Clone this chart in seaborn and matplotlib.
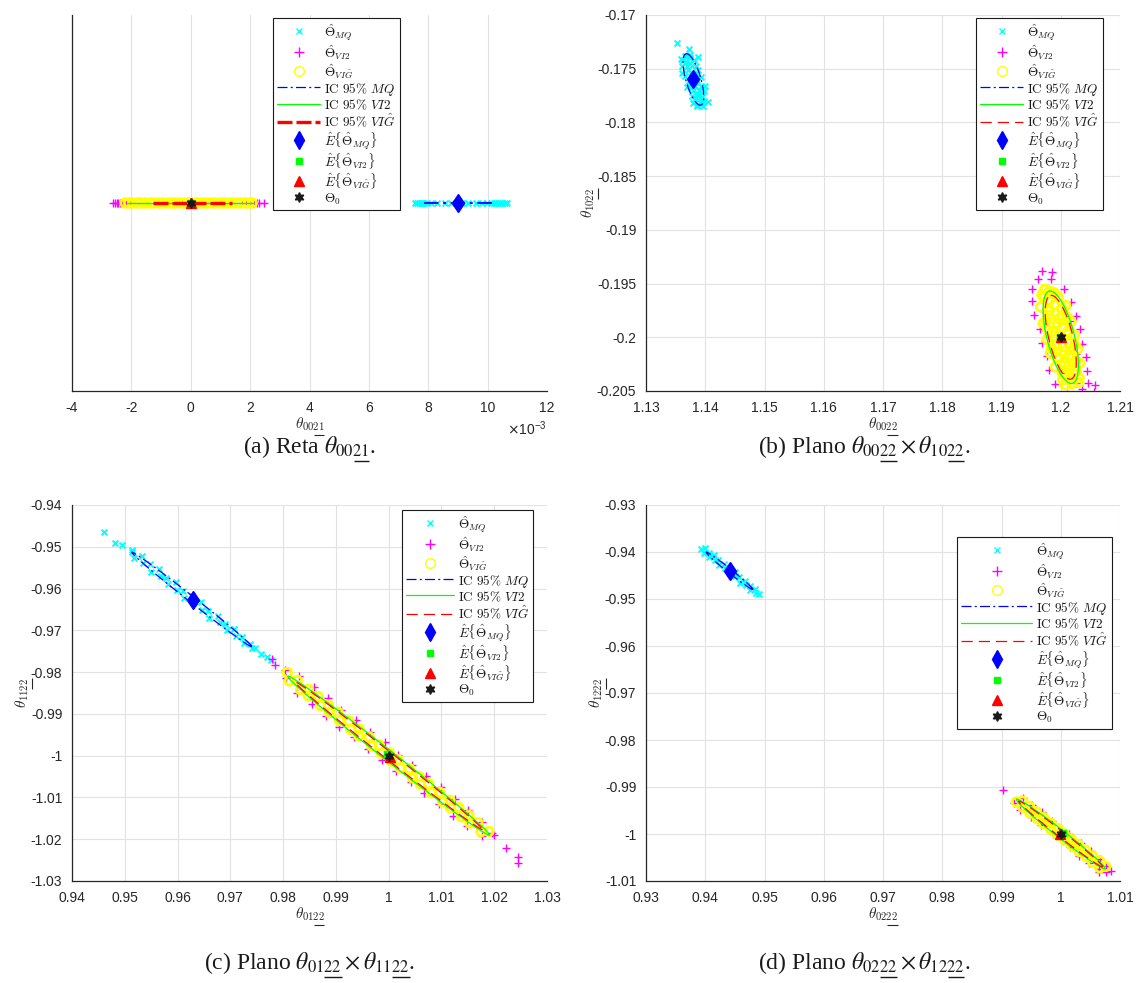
import numpy as np
import matplotlib
matplotlib.use("Agg")
import matplotlib.pyplot as plt
from matplotlib.lines import Line2D
import seaborn as sns

# ---------------------------------------------------------------- data
# (a) line theta_0021 (values in units of 1e-3)
a_mq = [7.55, 7.61, 7.68, 7.74, 7.80, 7.87, 7.95, 8.10, 8.30, 8.55, 8.75, 8.95, 9.15,
        9.35, 9.60, 9.80, 9.98, 10.12, 10.22, 10.29, 10.36, 10.43, 10.50, 10.57, 10.64]
a_vi2 = [-2.62, -2.55, -2.50, -2.44, -2.38, -2.31, -2.25, -2.17, -2.06, -1.93, -1.80,
         -1.50, -1.10, -0.70, -0.30, 0.20, 0.60, 1.00, 1.40, 1.72, 1.85, 1.97, 2.06,
         2.14, 2.22, 2.31, 2.47, 3.10]
a_vig = [-2.21, -2.09, -1.95, -1.79, -1.68, -1.52, -1.36, -1.24, -1.07, -0.95, -0.78,
         -0.63, -0.52, -0.34, -0.20, -0.07, 0.09, 0.22, 0.38, 0.51, 0.67, 0.80, 0.96,
         1.09, 1.25, 1.38, 1.54, 1.67, 1.83, 1.95, 2.07]
a_ci_mq = [7.85, 10.20]
a_ci_vi2 = [-2.13, 2.13]
a_ci_vig = [-1.26, 1.40]
a_mean_mq = 9.0
a_mean_vi2 = 0.0
a_mean_vig = 0.0
a_theta0 = 0.0
a_xticks = [-4, -2, 0, 2, 4, 6, 8, 10, 12]

# (b) plane theta_0022 x theta_1022
b_mq_x = [1.1353, 1.1373, 1.1387, 1.1405, 1.1396, 1.1386,
          1.13688, 1.13749, 1.13627, 1.13810, 1.13615, 1.13774, 1.13701, 1.13885,
          1.13653, 1.13806, 1.13739, 1.13934, 1.13837, 1.13691, 1.13923, 1.13813,
          1.13973, 1.13777, 1.13937, 1.13876, 1.13986, 1.13864, 1.13943, 1.13657,
          1.13610, 1.13997, 1.13731, 1.13857, 1.13769, 1.13734,
          1.13737, 1.13695, 1.13847, 1.13769, 1.13836, 1.13769, 1.13867, 1.13831,
          1.13764, 1.13893, 1.13881, 1.13827, 1.13931, 1.13676, 1.13596, 1.13797]
b_mq_y = [-0.1726, -0.1732, -0.1739, -0.1781, -0.1785, -0.1784,
          -0.17385, -0.17376, -0.17420, -0.17418, -0.17473, -0.17475, -0.17512,
          -0.17510, -0.17570, -0.17565, -0.17609, -0.17580, -0.17620, -0.17672,
          -0.17659, -0.17701, -0.17704, -0.17757, -0.17760, -0.17795, -0.17804,
          -0.17848, -0.17823, -0.17377, -0.17538, -0.17661, -0.17443, -0.17733,
          -0.17566, -0.17649,
          -0.17404, -0.17474, -0.17477, -0.17540, -0.17543, -0.17592, -0.17603,
          -0.17660, -0.17683, -0.17702, -0.17755, -0.17776, -0.17800, -0.17438,
          -0.17411, -0.17819]
b_vi2_x = [1.19615, 1.19832, 1.19515, 1.20063, 1.19517, 1.20177, 1.19551, 1.20258,
           1.19642, 1.20326, 1.19676, 1.20360, 1.19768, 1.20429, 1.19802, 1.20451,
           1.19905, 1.20453, 1.20113, 1.20357, 1.19875, 1.19702, 1.20150, 1.19812,
           1.20260, 1.20005, 1.20259, 1.19679, 1.19849, 1.20560, 1.20577]
b_vi2_y = [-0.19453, -0.19457, -0.19551, -0.19548, -0.19663, -0.19672, -0.19794,
           -0.19799, -0.19920, -0.19927, -0.20051, -0.20058, -0.20177, -0.20186,
           -0.20308, -0.20318, -0.20433, -0.20430, -0.20526, -0.20483, -0.19609,
           -0.19758, -0.19853, -0.20061, -0.20156, -0.20335, -0.20424, -0.19381,
           -0.19388, -0.20510, -0.20441]
b_vig_x = [1.19810, 1.19714, 1.19954, 1.19660, 1.19890, 1.20084, 1.19790, 1.20030,
           1.19704, 1.19943, 1.20173, 1.19857, 1.20119, 1.19770, 1.20000, 1.20230,
           1.19914, 1.20144, 1.19827, 1.20057, 1.20287, 1.19971, 1.20201, 1.19907,
           1.20137, 1.20321, 1.20028, 1.20258, 1.20171, 1.20033, 1.20309, 1.20190,
           1.19732,
           1.19889, 1.19802, 1.20013, 1.19806, 1.19970, 1.19752, 1.20108, 1.20031,
           1.19778, 1.19876, 1.20106, 1.20038, 1.19843, 1.20234, 1.20145, 1.19938,
           1.20059, 1.20243, 1.20133, 1.20221, 1.20083, 1.20305, 1.20075, 1.19682]
b_vig_y = [-0.19570, -0.19623, -0.19625, -0.19717, -0.19697, -0.19703, -0.19795,
           -0.19797, -0.19870, -0.19871, -0.19851, -0.19946, -0.19945, -0.20020,
           -0.20000, -0.19980, -0.20075, -0.20055, -0.20149, -0.20129, -0.20109,
           -0.20204, -0.20184, -0.20276, -0.20256, -0.20240, -0.20333, -0.20313,
           -0.20387, -0.20399, -0.20375, -0.20430, -0.19555,
           -0.19586, -0.19660, -0.19731, -0.19749, -0.19824, -0.19843, -0.19812,
           -0.19908, -0.19930, -0.19989, -0.19969, -0.20086, -0.20103, -0.20069,
           -0.20166, -0.20184, -0.20241, -0.20225, -0.20301, -0.20338, -0.20350,
           -0.20420, -0.20440, -0.19604]
# confidence ellipses: centre, then the two semi-axis vectors
b_ci_mq = [(1.1380, -0.1760), (-0.00125, 0.00239), (0.00122, 0.00018)]
b_ci_vi2 = [(1.2000, -0.2000), (-0.0019, 0.0043), (0.0023, 0.0002)]
b_ci_vig = [(1.2000, -0.2000), (-0.0017, 0.0039), (0.0020, 0.0002)]
b_mean_mq = (1.1380, -0.1760)
b_mean_vi2 = (1.1999, -0.2000)
b_mean_vig = (1.2001, -0.2000)
b_theta0 = (1.2000, -0.2000)
b_xticks = [1.13, 1.14, 1.15, 1.16, 1.17, 1.18, 1.19, 1.20, 1.21]
b_yticks = [-0.205, -0.2, -0.195, -0.19, -0.185, -0.18, -0.175, -0.17]

# (c) plane theta_0122 x theta_1122
c_mq_x = [0.9461, 0.9482, 0.9494, 0.9513,
          0.95133, 0.95178, 0.95327, 0.95354, 0.95472, 0.95489, 0.95649, 0.95683,
          0.95784, 0.95814, 0.95971, 0.95995, 0.96099, 0.96129, 0.96279, 0.96316,
          0.96448, 0.96455, 0.96580, 0.96603, 0.96760, 0.96797, 0.96905, 0.96936,
          0.97075, 0.97109, 0.97220, 0.97261, 0.97369, 0.97419,
          0.9747, 0.9758, 0.9769, 0.9777]
c_mq_y = [-0.9464, -0.9490, -0.9496, -0.9508,
          -0.95130, -0.95265, -0.95232, -0.95395, -0.95413, -0.95593, -0.95543,
          -0.95695, -0.95740, -0.95898, -0.95854, -0.96023, -0.96062, -0.96220,
          -0.96187, -0.96333, -0.96328, -0.96525, -0.96531, -0.96700, -0.96656,
          -0.96802, -0.96837, -0.96994, -0.96978, -0.97130, -0.97159, -0.97299,
          -0.97334, -0.97429,
          -0.9742, -0.9757, -0.9763, -0.9771]
c_vi2_x = [0.9778, 0.9785, 0.9804,
           0.98061, 0.98306, 0.98269, 0.98580, 0.98542, 0.98853, 0.98804, 0.99103,
           0.99065, 0.99382, 0.99350, 0.99643, 0.99606, 0.99923, 0.99879, 1.00172,
           1.00135, 1.00451, 1.00414, 1.00713, 1.00676, 1.00992, 1.00955, 1.01248,
           1.01210, 1.01509, 1.01484, 1.01771, 1.01775, 1.02003,
           1.0195, 1.0222, 1.0245, 1.0245]
c_vi2_y = [-0.9769, -0.9783, -0.9795,
           -0.98147, -0.98101, -0.98507, -0.98358, -0.98764, -0.98615, -0.99039,
           -0.98909, -0.99314, -0.99156, -0.99552, -0.99431, -0.99837, -0.99679,
           -1.00094, -0.99973, -1.00378, -1.00220, -1.00626, -1.00495, -1.00901,
           -1.00743, -1.01148, -1.01027, -1.01433, -1.01303, -1.01690, -1.01578,
           -1.01918, -1.01901,
           -1.0185, -1.0222, -1.0243, -1.0258]
c_vig_x = [0.9812, 0.9833, 0.9848, 0.9871, 0.9888, 0.9907, 0.9928, 0.9943, 0.9968,
           0.9986, 1.0005, 1.0022, 1.0045, 1.0060, 1.0081, 1.0102, 1.0117, 1.0138,
           1.0154, 1.0175,
           0.9808, 0.9827, 0.9848, 0.9866, 0.9886, 0.9904, 0.9925, 0.9944, 0.9963,
           0.9982, 1.0001, 1.0018, 1.0039, 1.0058, 1.0076, 1.0097, 1.0116, 1.0133,
           1.0152, 1.0169, 1.0190]
c_vig_y = [-0.9821, -0.9842, -0.9857, -0.9880, -0.9897, -0.9916, -0.9937, -0.9952,
           -0.9977, -0.9994, -1.0013, -1.0030, -1.0053, -1.0068, -1.0089, -1.0110,
           -1.0125, -1.0146, -1.0161, -1.0182,
           -0.9801, -0.9820, -0.9841, -0.9858, -0.9879, -0.9896, -0.9917, -0.9936,
           -0.9955, -0.9974, -0.9993, -1.0010, -1.0031, -1.0050, -1.0067, -1.0088,
           -1.0107, -1.0124, -1.0143, -1.0160, -1.0181]
c_ci_mq = [(0.9627, -0.9626), (0.01137, -0.0113), (-0.00035, -0.00056)]
c_ci_vi2 = [(1.0000, -1.0000), (0.0191, -0.0190), (-0.00059, -0.00094)]
c_ci_vig = [(1.0000, -1.0000), (0.0178, -0.0177), (-0.00045, -0.00072)]
c_mean_mq = (0.9629, -0.9627)
c_mean_vi2 = (0.9996, -0.9996)
c_mean_vig = (1.0003, -1.0002)
c_theta0 = (1.0000, -1.0000)
c_xticks = [0.94, 0.95, 0.96, 0.97, 0.98, 0.99, 1.0, 1.01, 1.02, 1.03]
c_yticks = [-1.03, -1.02, -1.01, -1.0, -0.99, -0.98, -0.97, -0.96, -0.95, -0.94]

# (d) plane theta_0222 x theta_1222
d_mq_x = [0.9392, 0.9399, 0.9398, 0.9406, 0.9407, 0.9415, 0.9416, 0.9422, 0.9423,
          0.9431, 0.9433, 0.9440, 0.9441, 0.9450, 0.9451, 0.9457, 0.9458, 0.9467,
          0.9468, 0.9475, 0.9476, 0.9484, 0.9486, 0.9491]
d_mq_y = [-0.9393, -0.9392, -0.9403, -0.9402, -0.9410, -0.9407, -0.9417, -0.9418,
          -0.9427, -0.9425, -0.9434, -0.9435, -0.9445, -0.9443, -0.9452, -0.9454,
          -0.9465, -0.9461, -0.9470, -0.9472, -0.9481, -0.9479, -0.9487, -0.9490]
d_vi2_x = [0.9903, 0.9921, 0.9937, 0.9932, 0.9951, 0.9949, 0.9969, 0.9967, 0.9985,
           1.0015, 1.0034, 1.0031, 1.0051, 1.0048, 1.0066, 1.0064, 1.0076, 1.0077,
           1.0084, 1.0065, 0.9987, 1.0014]
d_vi2_y = [-0.9906, -0.9933, -0.9924, -0.9948, -0.9939, -0.9963, -0.9954, -0.9980,
           -0.9973, -1.0027, -1.0020, -1.0046, -1.0037, -1.0062, -1.0054, -1.0074,
           -1.0069, -1.0081, -1.0078, -1.0080, -1.0001, -0.9999]
d_vig_x = [0.9925, 0.9935, 0.9936, 0.9947, 0.9948, 0.9959, 0.9960, 0.9971, 0.9971,
           0.9983, 0.9983, 0.9995, 0.9995, 1.0006, 1.0007, 1.0018, 1.0019, 1.0030,
           1.0031, 1.0042, 1.0043, 1.0054, 1.0054, 1.0066, 1.0066, 1.0076]
d_vig_y = [-0.9932, -0.9930, -0.9943, -0.9941, -0.9955, -0.9953, -0.9967, -0.9965,
           -0.9978, -0.9977, -0.9990, -0.9988, -1.0002, -1.0000, -1.0013, -1.0012,
           -1.0025, -1.0023, -1.0037, -1.0035, -1.0048, -1.0047, -1.0060, -1.0058,
           -1.0072, -1.0069]
d_ci_mq = [(0.9441, -0.9440), (0.00395, -0.00397), (-0.00021, -0.00033)]
d_ci_vi2 = [(1.0000, -1.0000), (0.0075, -0.0074), (-0.00042, -0.00066)]
d_ci_vig = [(1.0000, -1.0000), (0.0071, -0.0070), (-0.00032, -0.00050)]
d_mean_mq = (0.9441, -0.9440)
d_mean_vi2 = (1.0003, -0.9998)
d_mean_vig = (0.9998, -1.0000)
d_theta0 = (1.0000, -1.0000)
d_xticks = [0.93, 0.94, 0.95, 0.96, 0.97, 0.98, 0.99, 1.0, 1.01]
d_yticks = [-1.01, -1.0, -0.99, -0.98, -0.97, -0.96, -0.95, -0.94, -0.93]

# ---------------------------------------------------------------- style
sns.set_theme(style="white")
plt.rcParams.update({
    "font.family": ["Liberation Sans", "DejaVu Sans"],
    "mathtext.fontset": "cm",
    "axes.unicode_minus": False,
    "text.color": "#262626",
})

CY, MG, YE = "#00ffff", "#ff00ff", "#ffff00"
BL, GR, RD = "#0000ff", "#00ff00", "#ff0000"
AX = "#262626"
HEX = (6, 1, 0)


def th(prefix, tail):
    return r"\theta_{%s%s}" % (prefix, tail)


def ci_curve(spec):
    (cx, cy), a, b = spec
    t = np.linspace(0, 2 * np.pi, 241)
    x = cx + a[0] * np.cos(t) + b[0] * np.sin(t)
    y = cy + a[1] * np.cos(t) + b[1] * np.sin(t)
    return x, y


def fmt(v):
    return "%g" % v


def style_axes(ax, xticks, yticks=None):
    ax.set_xlim(xticks[0], xticks[-1])
    ax.set_xticks(xticks)
    ax.set_xticklabels([fmt(v) for v in xticks])
    if yticks is None:
        ax.set_yticks([])
    else:
        ax.set_ylim(yticks[0], yticks[-1])
        ax.set_yticks(yticks)
        ax.set_yticklabels([fmt(v) for v in yticks])
    for s in ("top", "right"):
        ax.spines[s].set_visible(False)
    for s in ("left", "bottom"):
        ax.spines[s].set_color(AX)
        ax.spines[s].set_linewidth(0.9)
    ax.tick_params(direction="in", length=5, width=0.8, colors=AX,
                   labelsize=10, pad=7, labelcolor=AX)
    ax.grid(True, color="#e2e2e2", lw=0.8)
    ax.set_axisbelow(True)


def clouds(ax, mq, vi2, vig):
    sns.scatterplot(x=mq[0], y=mq[1], marker="x", s=18, color=CY, linewidth=1.4,
                    ax=ax, zorder=2)
    sns.scatterplot(x=vi2[0], y=vi2[1], marker="+", s=32, color=MG, linewidth=1.0,
                    ax=ax, zorder=2)
    sns.scatterplot(x=vig[0], y=vig[1], marker="o", s=38, facecolor="none",
                    edgecolor=YE, linewidth=2.0, ax=ax, zorder=2)


def means(ax, mq, vi2, vig, t0):
    ax.plot(*mq, ls="none", marker="d", ms=9.5, color=BL, zorder=5)
    ax.plot(*vi2, ls="none", marker="s", ms=5, color=GR, zorder=5)
    ax.plot(*vig, ls="none", marker="^", ms=6.5, color=RD, zorder=5)
    ax.plot(*t0, ls="none", marker=HEX, ms=7, color="k", zorder=6)


BL_DASH = (8, 2.6, 1.6, 2.6)
RD_DASH = (9, 4.8)


def legend(ax, anchor, red_lw, red_dash, hl):
    handles = [
        Line2D([], [], ls="none", marker="x", ms=5, mew=1.0, color=CY),
        Line2D([], [], ls="none", marker="+", ms=7, mew=1.0, color=MG),
        Line2D([], [], ls="none", marker="o", ms=7, mew=1.0, mfc="none", mec=YE),
        Line2D([], [], color=BL, lw=0.9, dashes=BL_DASH),
        Line2D([], [], color=GR, lw=0.9),
        Line2D([], [], color=RD, lw=red_lw, dashes=red_dash),
        Line2D([], [], ls="none", marker="d", ms=9, color=BL),
        Line2D([], [], ls="none", marker="s", ms=5, color=GR),
        Line2D([], [], ls="none", marker="^", ms=6.5, color=RD),
        Line2D([], [], ls="none", marker=HEX, ms=7, color="k"),
    ]
    labels = [
        r"$\hat{\Theta}_{MQ}$",
        r"$\hat{\Theta}_{VI2}$",
        r"$\hat{\Theta}_{VI\hat{G}}$",
        r"$\mathrm{IC\ 95\%}\ MQ$",
        r"$\mathrm{IC\ 95\%}\ VI2$",
        r"$\mathrm{IC\ 95\%}\ VI\hat{G}$",
        r"$\hat{E}\{\hat{\Theta}_{MQ}\}$",
        r"$\hat{E}\{\hat{\Theta}_{VI2}\}$",
        r"$\hat{E}\{\hat{\Theta}_{VI\hat{G}}\}$",
        r"$\Theta_0$",
    ]
    leg = ax.legend(handles, labels, loc="upper left", bbox_to_anchor=anchor,
                    borderaxespad=0, fontsize=9.5, numpoints=1,
                    handlelength=hl, handleheight=1.2, handletextpad=0.3,
                    labelspacing=0.0, borderpad=0.3, frameon=True, fancybox=False,
                    framealpha=1, edgecolor="k")
    leg.get_frame().set_linewidth(0.8)
    for t in leg.get_texts():
        t.set_color("k")
    return leg


# ---------------------------------------------------------------- figure
fig = plt.figure(figsize=(11.39, 9.83), dpi=100)
W, H = 1139.0, 983.0


def rect(left, top, width, height):
    return [left / W, 1 - (top + height) / H, width / W, height / H]


ax_a = fig.add_axes(rect(72, 15, 475, 376))
ax_b = fig.add_axes(rect(646, 15, 474, 376))
ax_c = fig.add_axes(rect(72, 505, 475, 376))
ax_d = fig.add_axes(rect(646, 505, 474, 376))

# texts that carry underlined subscripts: (artist, [(before, through), ...], ref, lw)
underlined = []

# (a) -- all estimates lie on a single line
zeros = lambda v: [0.0] * len(v)
clouds(ax_a, (a_mq, zeros(a_mq)), (a_vi2, zeros(a_vi2)), (a_vig, zeros(a_vig)))
ax_a.plot(a_ci_mq, [0, 0], color=BL, lw=1.3, dashes=BL_DASH, zorder=3)
ax_a.plot(a_ci_vi2, [0, 0], color=GR, lw=1.0, zorder=3)
ax_a.plot(a_ci_vig, [0, 0], color=RD, lw=2.4, dashes=(4.5, 1.2), zorder=3)
means(ax_a, (a_mean_mq, 0), (a_mean_vi2, 0), (a_mean_vig, 0), (a_theta0, 0))
style_axes(ax_a, a_xticks)
ax_a.set_ylim(-1, 1)
lab = ax_a.set_xlabel(r"$%s$" % th("00", "21"), fontsize=11, labelpad=0.5)
underlined.append((lab, [(r"$%s$" % th("00", ""), r"$%s$" % th("00", "21"))],
                   r"$\theta_{21}$", 0.8))
ax_a.text(1.0, -0.1, r"$\times\mathregular{10^{-3}}$", transform=ax_a.transAxes,
          ha="right", va="center", fontsize=10, color=AX,
          math_fontfamily="dejavusans")
legend(ax_a, (0.423, 0.992), 2.4, (4.5, 1.2), 3.3)

# (b), (c), (d) -- planes with confidence ellipses
panels = [
    (ax_b, (b_mq_x, b_mq_y), (b_vi2_x, b_vi2_y), (b_vig_x, b_vig_y),
     (b_ci_mq, b_ci_vi2, b_ci_vig), (b_mean_mq, b_mean_vi2, b_mean_vig, b_theta0),
     b_xticks, b_yticks, ("00", "10"), (0.696, 0.992), 3.3),
    (ax_c, (c_mq_x, c_mq_y), (c_vi2_x, c_vi2_y), (c_vig_x, c_vig_y),
     (c_ci_mq, c_ci_vi2, c_ci_vig), (c_mean_mq, c_mean_vi2, c_mean_vig, c_theta0),
     c_xticks, c_yticks, ("01", "11"), (0.695, 0.987), 3.6),
    (ax_d, (d_mq_x, d_mq_y), (d_vi2_x, d_vi2_y), (d_vig_x, d_vig_y),
     (d_ci_mq, d_ci_vi2, d_ci_vig), (d_mean_mq, d_mean_vi2, d_mean_vig, d_theta0),
     d_xticks, d_yticks, ("02", "12"), (0.656, 0.915), 5.4),
]
for ax, mq, vi2, vig, cis, mns, xt, yt, (px, py), anchor, hl in panels:
    clouds(ax, mq, vi2, vig)
    ax.plot(*ci_curve(cis[0]), color=BL, lw=0.9, dashes=BL_DASH, zorder=3)
    ax.plot(*ci_curve(cis[1]), color=GR, lw=0.9, zorder=3)
    ax.plot(*ci_curve(cis[2]), color=RD, lw=0.9, dashes=RD_DASH, zorder=3)
    means(ax, *mns)
    style_axes(ax, xt, yt)
    xl = ax.set_xlabel(r"$%s$" % th(px, "22"), fontsize=11, labelpad=0.5)
    yl = ax.set_ylabel(r"$%s$" % th(py, "22"), fontsize=11, labelpad=0)
    for t, p in ((xl, px), (yl, py)):
        underlined.append((t, [(r"$%s$" % th(p, ""), r"$%s$" % th(p, "22"))],
                           r"$\theta_{22}$", 0.8))
    legend(ax, anchor, 0.9, RD_DASH, hl)

# captions under each panel
captions = [
    (310, 447, "(a) Reta ", [("00", "21")]),
    (864, 447, "(b) Plano ", [("00", "22"), ("10", "22")]),
    (310, 963, "(c) Plano ", [("01", "22"), ("11", "22")]),
    (864, 963, "(d) Plano ", [("02", "22"), ("12", "22")]),
]
for x, y, head, subs in captions:
    s = head + "$" + r" \times ".join(th(p, t) for p, t in subs) + "$."
    t = fig.text(x / W, 1 - y / H, s, ha="center", va="center", fontsize=17,
                 family="Liberation Serif", color="k", math_fontfamily="stix")
    parts = []
    for i, (p, tail) in enumerate(subs):
        done = [th(q, u) for q, u in subs[:i]]
        lead = r" \times ".join(done + [th(p, "")])
        full = r" \times ".join(done + [th(p, tail)])
        parts.append((head + "$" + lead + "$", head + "$" + full + "$"))
    underlined.append((t, parts, r"$\theta_{22}$", 1.0))


def draw_underlines(items):
    """Rule a line beneath the trailing subscript digits of each label."""
    fig.canvas.draw()
    r = fig.canvas.get_renderer()
    inv = fig.transFigure.inverted()
    for t, parts, ref, lw in items:
        prop = t.get_fontproperties()
        bb = t.get_window_extent(r)
        _, _, d_full = r.get_text_width_height_descent(t.get_text(), prop, ismath=True)
        _, _, d_lp = r.get_text_width_height_descent("lp", prop, ismath=False)
        _, _, d_sub = r.get_text_width_height_descent(ref, prop, ismath=True)
        desc = max(d_full, d_lp)
        gap = 0.1 * prop.get_size_in_points() * fig.dpi / 72.0
        for lead, full in parts:
            w0 = r.get_text_width_height_descent(lead, prop, ismath=True)[0]
            w1 = r.get_text_width_height_descent(full, prop, ismath=True)[0]
            if t.get_rotation() == 90:
                xb = bb.x1 - desc + d_sub + gap
                pts = [(xb, bb.y0 + w0), (xb, bb.y0 + w1)]
            else:
                yb = bb.y0 + desc - d_sub - gap
                pts = [(bb.x0 + w0, yb), (bb.x0 + w1, yb)]
            (fx0, fy0), (fx1, fy1) = inv.transform(pts)
            fig.add_artist(Line2D([fx0, fx1], [fy0, fy1], transform=fig.transFigure,
                                  color=t.get_color(), lw=lw,
                                  solid_capstyle="butt"))


draw_underlines(underlined)
fig.savefig("out.png", dpi=100, facecolor="white")
